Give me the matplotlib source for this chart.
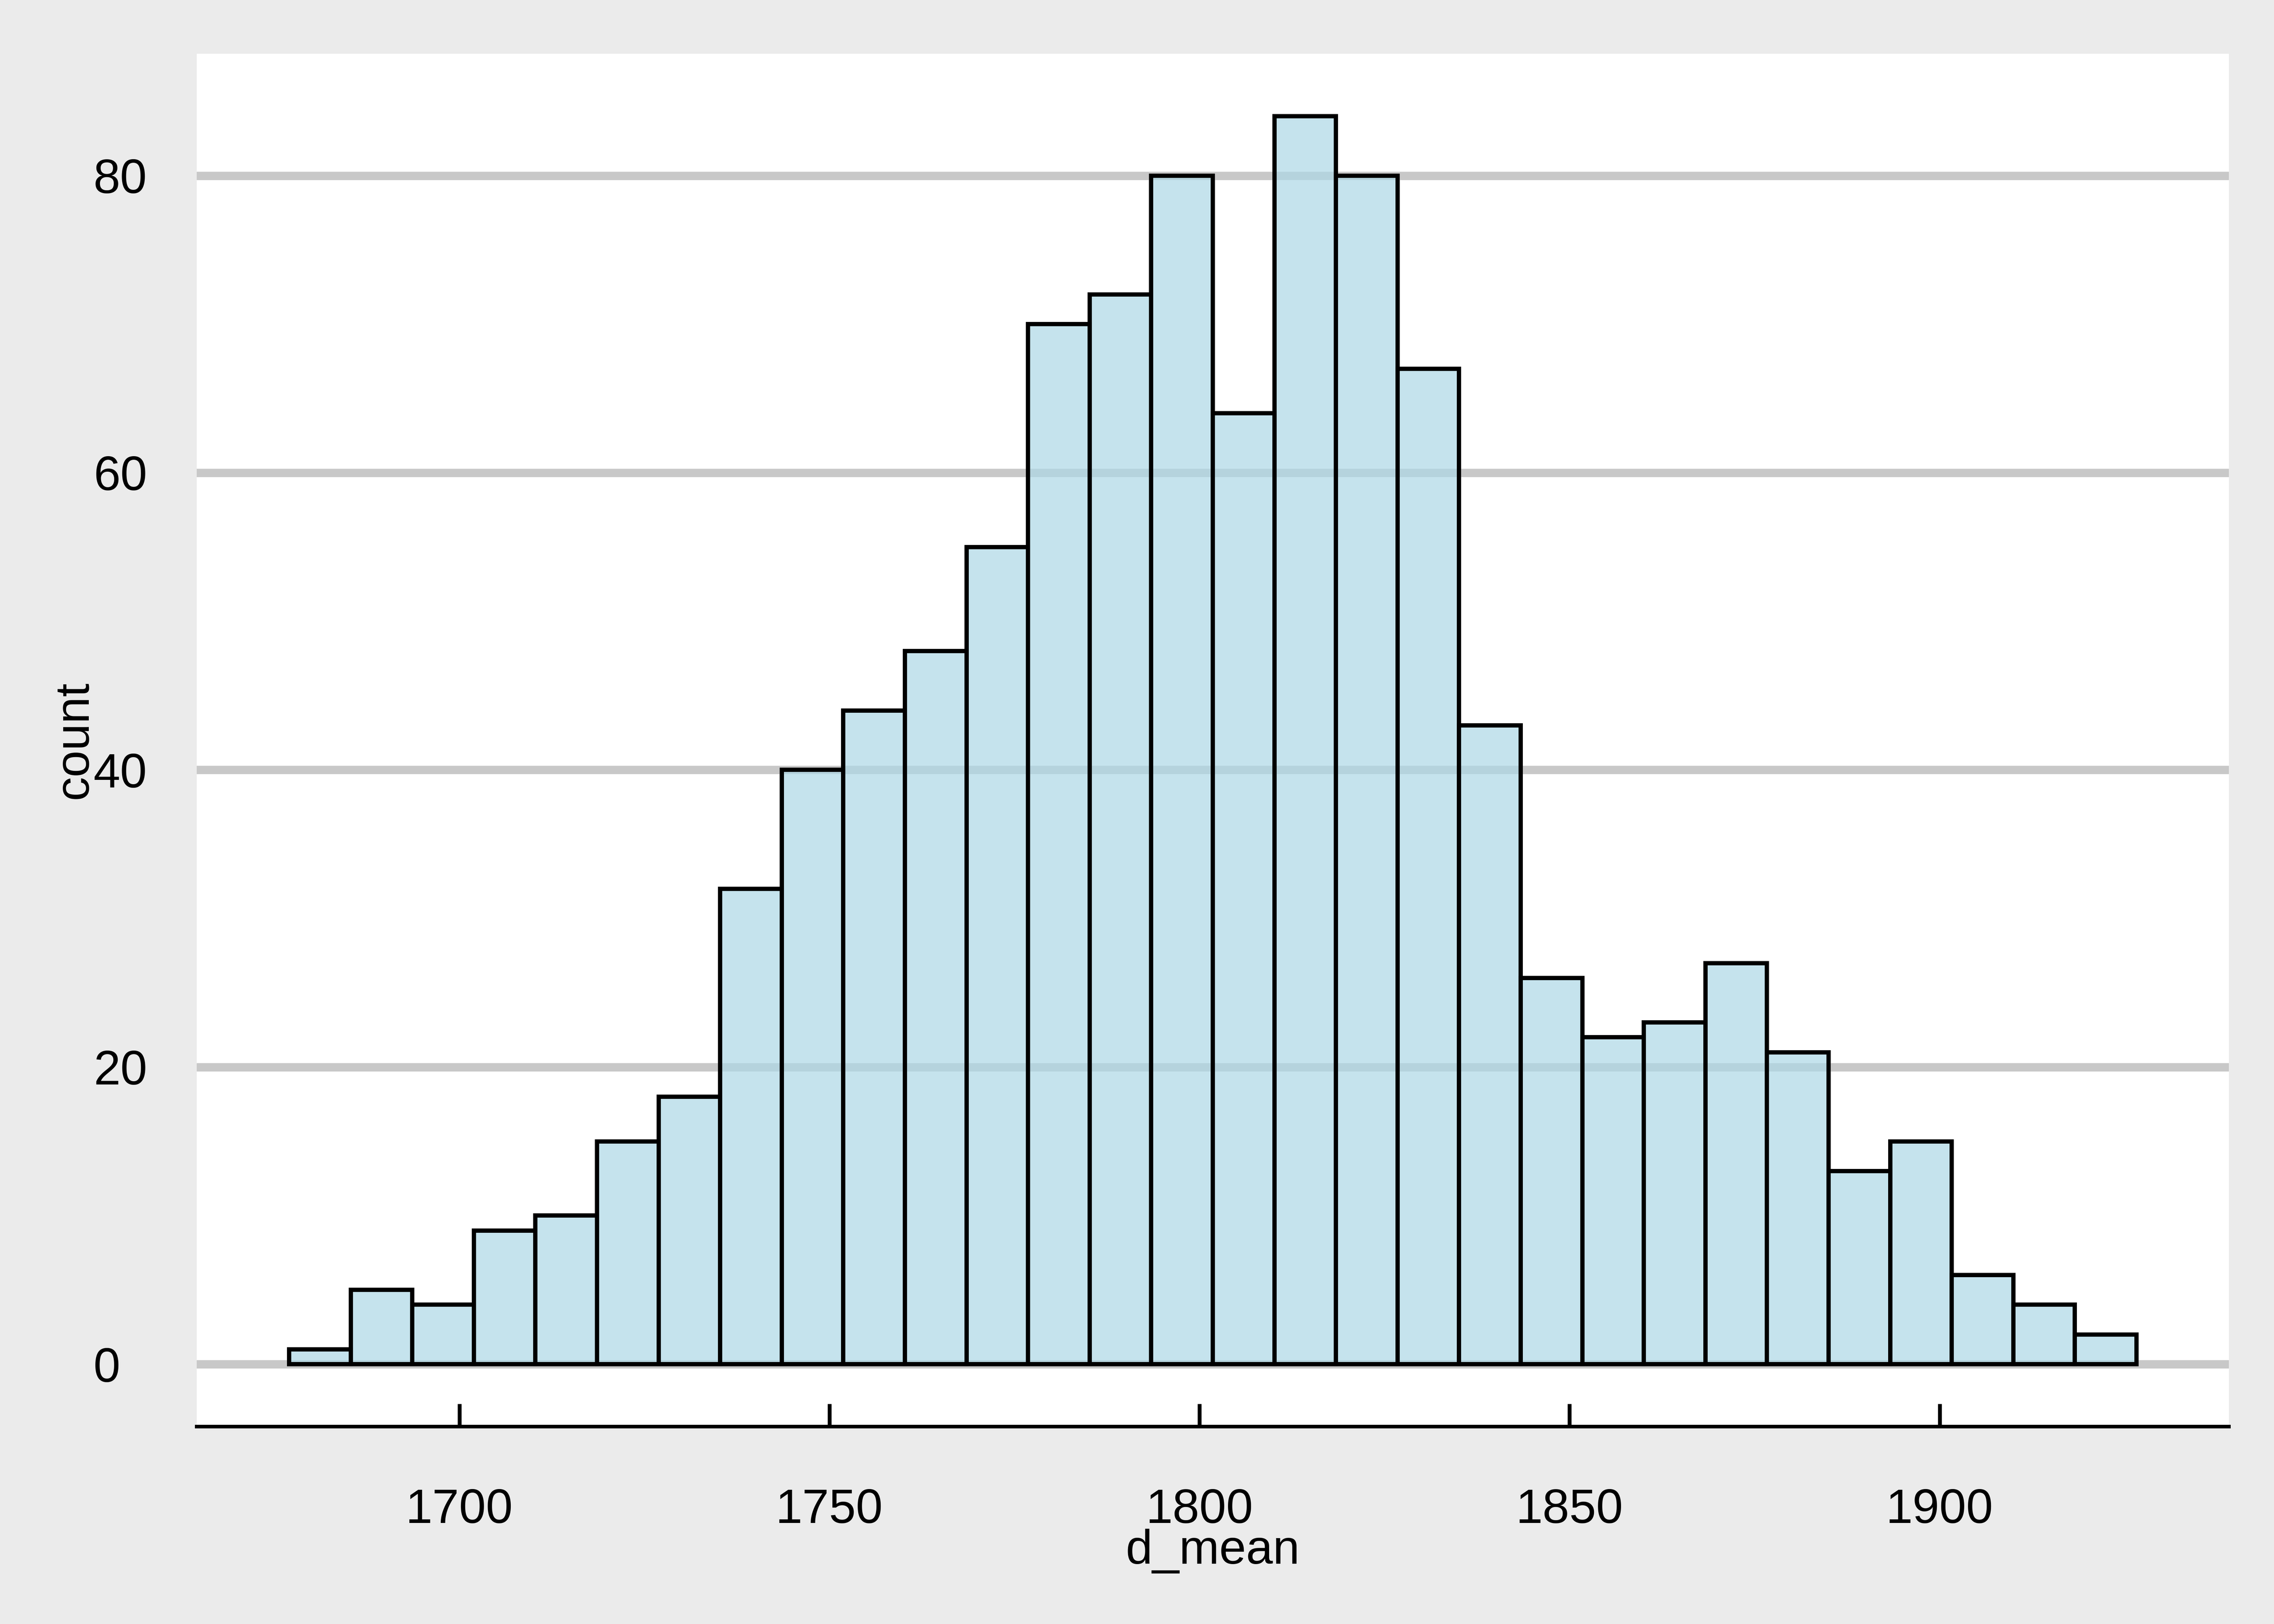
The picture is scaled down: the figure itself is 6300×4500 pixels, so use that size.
import numpy as np
import matplotlib
matplotlib.use("Agg")
import matplotlib.pyplot as plt
from matplotlib.colors import to_rgba

# histogram: 30 bins
counts = [1, 5, 4, 9, 10, 15, 18, 32, 40, 44, 48, 55, 70, 72, 80,
          64, 84, 80, 67, 43, 26, 22, 23, 27, 21, 13, 15, 6, 4, 2]
bin_lo = 1677.0
bin_hi = 1926.6
x_ticks = [1700, 1750, 1800, 1850, 1900]
y_ticks = [0, 20, 40, 60, 80]

edges = np.linspace(bin_lo, bin_hi, len(counts) + 1)
widths = np.diff(edges)

plt.rcParams['font.family'] = ['Liberation Sans', 'DejaVu Sans']

W, H = 6300, 4500
fig = plt.figure(figsize=(7, 5), dpi=900, facecolor='#ebebeb')
left, right, top, bottom = 545, 6175, 149, 3953
ax = fig.add_axes([left / W, 1 - bottom / H, (right - left) / W, (bottom - top) / H])
ax.set_facecolor('white')

ax.bar(edges[:-1], counts, width=widths, align='edge',
       facecolor=to_rgba('lightblue', 0.7), edgecolor='black', linewidth=0.95)

# ggplot style 5% expansion
span = bin_hi - bin_lo
ax.set_xlim(bin_lo - 0.05 * span, bin_hi + 0.05 * span)
ymax = max(counts)
ax.set_ylim(-0.05 * ymax, ymax * 1.05)

ax.set_xticks(x_ticks)
ax.set_yticks(y_ticks)

ax.set_axisbelow(True)
ax.yaxis.grid(True, color='#c8c8c8', linewidth=1.85)
ax.xaxis.grid(False)

for s in ['left', 'right', 'top']:
    ax.spines[s].set_visible(False)
ax.spines['bottom'].set_linewidth(0.8)
ax.spines['bottom'].set_color('black')

ax.tick_params(axis='x', direction='in', length=5.05, width=0.85,
               pad=13.6, labelsize=10.7, colors='black')
ax.tick_params(axis='y', length=0, pad=22.9, labelsize=10.7, labelcolor='black')
for t in ax.get_yticklabels():
    t.set_horizontalalignment('left')

ax.set_xlabel('d_mean', fontsize=10.7)
ax.xaxis.set_label_coords(0.5, -(4236 - bottom) / (bottom - top))
ax.set_ylabel('count', fontsize=10.7)
ax.yaxis.set_label_coords((269 - left) / (right - left), 0.5)

fig.savefig('out.png', dpi=900, facecolor=fig.get_facecolor())
